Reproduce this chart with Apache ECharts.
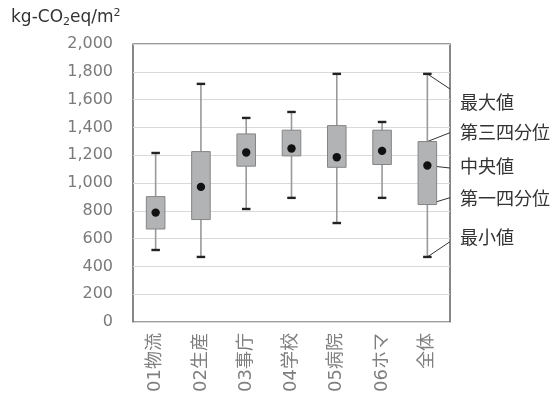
<!DOCTYPE html>
<html>
<head>
<meta charset="utf-8">
<script src="https://cdn.jsdelivr.net/npm/echarts@6/dist/echarts.min.js"></script>
<style>
html,body{margin:0;padding:0;background:#fff;}
#chart{width:560px;height:396px;}
</style>
</head>
<body>
<div id="chart"></div>
<script>
// ---- data ----
const categories = ['01物流','02生産','03事庁','04学校','05病院','06ホマ','全体'];
const minVals    = [518, 468, 813, 893, 712, 893, 468];
const q1Vals     = [669, 737, 1121, 1195, 1113, 1133, 845];
const medianVals = [787, 972, 1219, 1248, 1185, 1231, 1126];
const q3Vals     = [902, 1226, 1353, 1380, 1413, 1380, 1298];
const maxVals    = [1216, 1713, 1468, 1511, 1785, 1439, 1785];
const yTicks     = [0, 200, 400, 600, 800, 1000, 1200, 1400, 1600, 1800, 2000];
const annotationLabels = ['最大値','第三四分位','中央値','第一四分位','最小値'];

// ---- layout (pixels, not data) ----
const annoLineEndY = [89, 132.7, 168, 197.7, 241.7];
const annoTextY    = [101.7, 131.7, 166, 198.3, 236.7];
const CJK = '"Noto Sans CJK JP", "Noto Sans", sans-serif';
const LATIN = '"DejaVu Sans", "Noto Sans CJK JP", sans-serif';

const seriesData = categories.map((c, i) => [i, minVals[i], q1Vals[i], medianVals[i], q3Vals[i], maxVals[i]]);

function renderItem(params, api) {
  const idx = api.value(0);
  const pMin = api.coord([idx, api.value(1)]);
  const pQ1 = api.coord([idx, api.value(2)]);
  const pMed = api.coord([idx, api.value(3)]);
  const pQ3 = api.coord([idx, api.value(4)]);
  const pMax = api.coord([idx, api.value(5)]);
  const band = api.size([1, 0])[0];
  const bw = band * 0.41;
  const cw = 8.5;
  const cx = pMed[0];
  const children = [];
  if (idx === categories.length - 1) {
    const rx = params.coordSys.x + params.coordSys.width;
    const starts = [pMax, pQ3, pMed, pQ1, pMin];
    starts.forEach((p, k) => {
      children.push({
        type: 'line',
        shape: {x1: p[0], y1: p[1], x2: rx, y2: annoLineEndY[k]},
        style: {stroke: '#333', lineWidth: 1}
      });
    });
  }
  children.push({
    type: 'line',
    shape: {x1: cx, y1: pMax[1], x2: cx, y2: pMin[1]},
    style: {stroke: '#999', lineWidth: 1.6}
  });
  children.push({
    type: 'rect',
    shape: {x: cx - bw / 2, y: pQ3[1], width: bw, height: pQ1[1] - pQ3[1]},
    style: {fill: '#b2b3b5', stroke: '#858585', lineWidth: 1}
  });
  [pMax, pMin].forEach(p => {
    children.push({
      type: 'line',
      shape: {x1: cx - cw / 2, y1: p[1], x2: cx + cw / 2, y2: p[1]},
      style: {stroke: '#222', lineWidth: 2.4}
    });
  });
  children.push({
    type: 'circle',
    shape: {cx: cx, cy: pMed[1], r: 4.2},
    style: {fill: '#111'}
  });
  return {type: 'group', children: children};
}

const chart = echarts.init(document.getElementById('chart'), null, {renderer: 'canvas'});

const graphics = [
  {
    type: 'text',
    left: 11, top: 7,
    style: {
      text: '{a|kg-CO}{s|2}{a|eq/m}{p|2}',
      rich: {
        a: {fontSize: 17, fontFamily: LATIN, fill: '#333', lineHeight: 24, verticalAlign: 'middle'},
        s: {fontSize: 11, fontFamily: LATIN, fill: '#333', lineHeight: 24, padding: [10, 0, 0, 0], verticalAlign: 'middle'},
        p: {fontSize: 11, fontFamily: LATIN, fill: '#333', lineHeight: 24, padding: [0, 0, 8, 0], verticalAlign: 'middle'}
      }
    }
  }
];
annotationLabels.forEach((t, k) => {
  graphics.push({
    type: 'text',
    x: 460, y: annoTextY[k],
    style: {text: t, fontSize: 18, fontFamily: CJK, fill: '#333', textVerticalAlign: 'middle', verticalAlign: 'middle'}
  });
});

chart.setOption({
  animation: false,
  backgroundColor: '#fff',
  textStyle: {fontFamily: CJK},
  grid: {left: 133, top: 44, width: 317, height: 278, show: true, borderColor: '#3a3a3a', borderWidth: 1.2, backgroundColor: 'transparent'},
  xAxis: {
    type: 'category',
    data: categories,
    axisLine: {show: false},
    axisTick: {show: false},
    axisLabel: {rotate: 90, color: '#7f7f7f', fontSize: 18, margin: 11, fontFamily: LATIN, interval: 0}
  },
  yAxis: {
    type: 'value',
    min: yTicks[0], max: yTicks[yTicks.length - 1], interval: 200,
    axisLine: {show: false},
    axisTick: {show: false},
    splitLine: {lineStyle: {color: '#d9d9d9', width: 1}},
    axisLabel: {color: '#7a7a7a', fontSize: 16, margin: 20, fontFamily: LATIN,
      formatter: v => v.toLocaleString('en-US')}
  },
  graphic: graphics,
  series: [{
    type: 'custom',
    renderItem: renderItem,
    clip: false,
    encode: {x: 0, y: [1, 2, 3, 4, 5]},
    data: seriesData,
    z: 3
  }]
});
</script>
</body>
</html>
